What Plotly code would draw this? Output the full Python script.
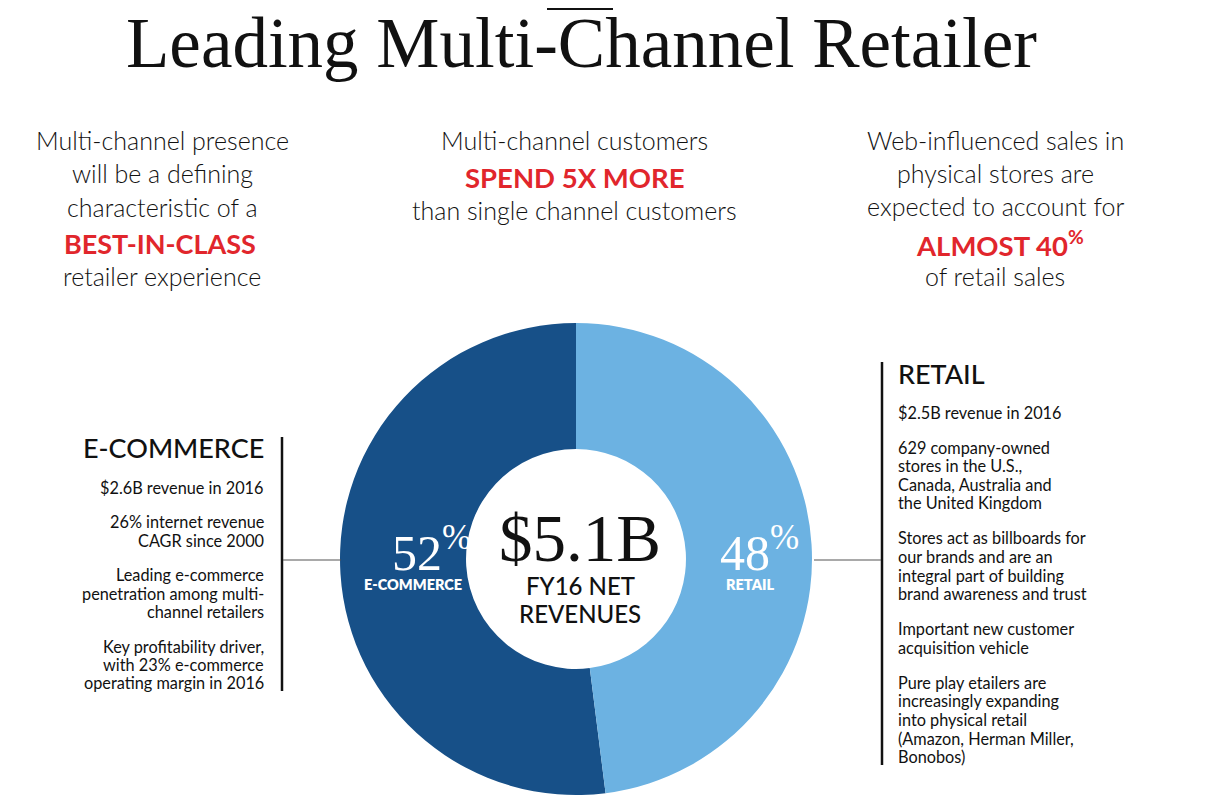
import plotly.graph_objects as go

W, H = 1225, 799
OFF = 8  # page body margin offset

# ---------------- data ----------------
segments = ["E-COMMERCE", "RETAIL"]
shares = [52, 48]
seg_colors = ["#175088", "#6CB2E2"]
total_label = "$5.1B"
total_sub = ["FY16 NET", "REVENUES"]

title_text = "Leading Multi-Channel Retailer"

left_top = ["Multi-channel presence", "will be a defining", "characteristic of a",
            "BEST-IN-CLASS", "retailer experience"]
mid_top = ["Multi-channel customers", "SPEND 5X MORE", "than single channel customers"]
right_top = ["Web-influenced sales in", "physical stores are", "expected to account for",
             "ALMOST 40<sup>%</sup>", "of retail sales"]

ecom_head = "E-COMMERCE"
ecom_points = [["$2.6B revenue in 2016"],
               ["26% internet revenue", "CAGR since 2000"],
               ["Leading e-commerce", "penetration among multi-", "channel retailers"],
               ["Key profitability driver,", "with 23% e-commerce", "operating margin in 2016"]]
retail_head = "RETAIL"
retail_points = [["$2.5B revenue in 2016"],
                 ["629 company-owned", "stores in the U.S.,", "Canada, Australia and", "the United Kingdom"],
                 ["Stores act as billboards for", "our brands and are an", "integral part of building",
                  "brand awareness and trust"],
                 ["Important new customer", "acquisition vehicle"],
                 ["Pure play etailers are", "increasingly expanding", "into physical retail",
                  "(Amazon, Herman Miller,", "Bonobos)"]]

RED = "#E1262C"
SANS = "Lato"
SERIF = "Liberation Serif"


def px(x):
    return (x - OFF) / W


def py(y):
    return 1 - (y - OFF) / H


# ---------------- figure ----------------
cx, cy, r = 576, 559, 236

# E-commerce runs counterclockwise from 12 o'clock: start it where Retail ends (clockwise)
start_angle = 360 * shares[1] / sum(shares)

fig = go.Figure()
fig.add_trace(go.Pie(
    labels=segments, values=shares, sort=False, direction="clockwise",
    rotation=start_angle, hole=0.466, marker=dict(colors=seg_colors, line=dict(width=0)),
    textinfo="none", hoverinfo="label+percent", showlegend=False,
    domain=dict(x=[px(cx - r), px(cx + r)], y=[py(cy + r), py(cy - r)]),
))

ann = []


def add(text, x, y, size, color="#111", family=SANS, xanchor="center", weight=None):
    f = dict(size=size, color=color, family=family)
    if weight is not None:
        f["weight"] = weight
    ann.append(dict(text=text, x=px(x), y=py(y), xref="paper", yref="paper",
                    xanchor=xanchor, yanchor="middle", showarrow=False, font=f))


# title
add(title_text, 581, 43, 71, color="#111", family=SERIF)

# top texts
ys_left = [140, 173, 207, 243, 276]
for t, yy in zip(left_top, ys_left):
    if t.isupper():
        add(t, 160, yy, 27, color=RED, weight=700)
    else:
        add(t, 162, yy, 25, weight=300)
ys_mid = [140, 177, 210]
for t, yy in zip(mid_top, ys_mid):
    if t.isupper():
        add(t, 574, yy, 27.5, color=RED, weight=700)
    else:
        add(t, 574, yy, 25, weight=300)
ys_right = [140, 173, 206, 243, 276]
for t, yy in zip(right_top, ys_right):
    if t.startswith("ALMOST"):
        add(t, 1000, yy, 27.5, color=RED, weight=700)
    else:
        add(t, 995, yy, 25, weight=300)

# donut labels
add(f"{shares[0]}<sup>%</sup>", 431, 549, 50, color="white", family=SERIF)
add(segments[0], 413, 584, 14.5, color="white", weight=800)
add(f"{shares[1]}<sup>%</sup>", 759, 549, 50, color="white", family=SERIF)
add(segments[1], 750, 584, 14.5, color="white", weight=800)

add(total_label, 580, 538, 67, color="#111", family=SERIF)
add(total_sub[0], 580, 585, 24, color="#111", weight=500)
add(total_sub[1], 580, 613, 24, color="#111", weight=500)

# left side block
add(ecom_head, 266, 447, 27, color="#111", xanchor="right", weight=500)
y = 487
for grp in ecom_points:
    for line in grp:
        add(line, 266, y, 16.3, color="#111", xanchor="right")
        y += 18.3
    y += 16.5

# right side block
add(retail_head, 896, 373, 27, color="#111", xanchor="left", weight=500)
y = 412
for grp in retail_points:
    for line in grp:
        add(line, 896, y, 16.3, color="#111", xanchor="left")
        y += 18.6
    y += 16.4

shapes = [
    dict(type="line", xref="paper", yref="paper", x0=px(547), x1=px(613), y0=py(9), y1=py(9),
         line=dict(color="#111", width=2)),
    dict(type="line", xref="paper", yref="paper", x0=px(282), x1=px(282), y0=py(437), y1=py(691),
         line=dict(color="#111", width=2.5)),
    dict(type="line", xref="paper", yref="paper", x0=px(283), x1=px(341), y0=py(560), y1=py(560),
         line=dict(color="#555", width=1.2)),
    dict(type="line", xref="paper", yref="paper", x0=px(882), x1=px(882), y0=py(362), y1=py(765),
         line=dict(color="#111", width=2.5)),
    dict(type="line", xref="paper", yref="paper", x0=px(814), x1=px(881), y0=py(560), y1=py(560),
         line=dict(color="#555", width=1.2)),
]

fig.update_layout(
    width=W, height=H, margin=dict(l=0, r=0, t=0, b=0),
    paper_bgcolor="white", plot_bgcolor="white",
    annotations=ann, shapes=shapes, showlegend=False,
)

fig.write_html("out.html")
